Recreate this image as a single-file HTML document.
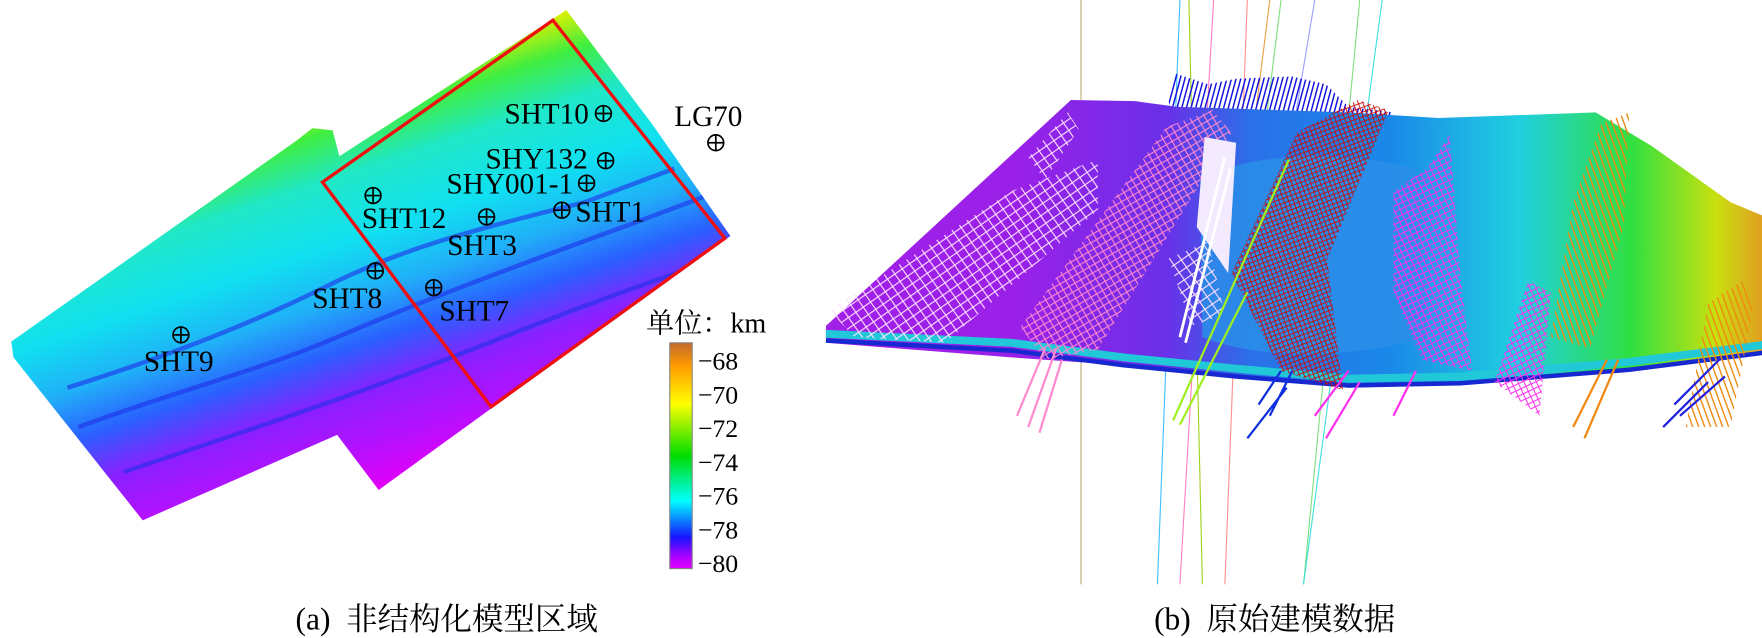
<!DOCTYPE html>
<html><head><meta charset="utf-8">
<style>
html,body{margin:0;padding:0;background:#fff;width:1762px;height:638px;overflow:hidden}
svg{display:block}
text{font-family:"Liberation Serif","Noto Serif CJK SC","Noto Sans CJK SC",serif;fill:#000}
</style></head>
<body>
<svg id="fig" width="1762" height="638" viewBox="0 0 1568 567.7">
<defs>
 <linearGradient id="mapGrad" gradientUnits="userSpaceOnUse" x1="504" y1="9" x2="615" y2="340">
  <stop offset="0" stop-color="#e0f000"/>
  <stop offset="0.1" stop-color="#40ee40"/>
  <stop offset="0.22" stop-color="#20e8c8"/>
  <stop offset="0.38" stop-color="#10e0f0"/>
  <stop offset="0.52" stop-color="#20b0f8"/>
  <stop offset="0.64" stop-color="#2a60ff"/>
  <stop offset="0.76" stop-color="#8a20ff"/>
  <stop offset="0.9" stop-color="#b810ff"/>
  <stop offset="1" stop-color="#e000f8"/>
 </linearGradient>
 <clipPath id="mapClip">
  <polygon points="10,304 264,125 278,114 296,116 302,139 504,9 580,110 650,210 464,344 337,436 300,387 127,463 12,318"/>
 </clipPath>
 <linearGradient id="cbGrad" x1="0" y1="0" x2="0" y2="1">
  <stop offset="0" stop-color="#c06a30"/>
  <stop offset="0.1" stop-color="#ff9a00"/>
  <stop offset="0.27" stop-color="#ffff00"/>
  <stop offset="0.5" stop-color="#00dd00"/>
  <stop offset="0.7" stop-color="#00ffff"/>
  <stop offset="0.86" stop-color="#1515ff"/>
  <stop offset="0.95" stop-color="#b000ff"/>
  <stop offset="1" stop-color="#e000ff"/>
 </linearGradient>
 <linearGradient id="bodyGrad" gradientUnits="userSpaceOnUse" x1="740" y1="0" x2="1568" y2="0">
  <stop offset="0" stop-color="#a020e8"/>
  <stop offset="0.2" stop-color="#9a20e8"/>
  <stop offset="0.36" stop-color="#6a30e8"/>
  <stop offset="0.45" stop-color="#2a70e8"/>
  <stop offset="0.6" stop-color="#1a88e8"/>
  <stop offset="0.74" stop-color="#20d0e0"/>
  <stop offset="0.86" stop-color="#30e040"/>
  <stop offset="0.95" stop-color="#c8e010"/>
  <stop offset="1" stop-color="#e0a020"/>
 </linearGradient>
 <pattern id="hatchWhite" width="8" height="8" patternUnits="userSpaceOnUse" patternTransform="rotate(-35)">
  <path d="M0,0 L0,8 M0,0 L8,0" stroke="#ffe0ff" stroke-width="2"/>
 </pattern>
 <pattern id="hatchPink" width="6" height="6" patternUnits="userSpaceOnUse" patternTransform="rotate(-30)">
  <path d="M0,0 L0,6 M0,0 L6,0" stroke="#ff88cc" stroke-width="2"/>
 </pattern>
 <pattern id="hatchRed" width="4" height="4" patternUnits="userSpaceOnUse" patternTransform="rotate(-20)">
  <path d="M0,0 L0,4 M0,0 L4,0" stroke="#c80a0a" stroke-width="1.6"/>
 </pattern>
 <pattern id="hatchMag" width="5" height="5" patternUnits="userSpaceOnUse" patternTransform="rotate(-25)">
  <path d="M0,0 L0,5 M0,0 L5,0" stroke="#ff30f0" stroke-width="1.8"/>
 </pattern>
 <pattern id="hatchOrange" width="5" height="6" patternUnits="userSpaceOnUse" patternTransform="rotate(-20)">
  <path d="M0,0 L0,6" stroke="#f08a10" stroke-width="2.5"/>
 </pattern>
 <pattern id="hatchBlue" width="4" height="6" patternUnits="userSpaceOnUse" patternTransform="rotate(15)">
  <path d="M0,0 L0,6" stroke="#1010e0" stroke-width="2.6"/>
 </pattern>
</defs>

<g>
 <polygon fill="url(#mapGrad)"
  points="10,304 264,125 278,114 296,116 302,139 504,9 580,110 650,210 464,344 337,436 300,387 127,463 12,318"/>
 <g stroke="#2030e8" stroke-width="4" fill="none" opacity="0.6" clip-path="url(#mapClip)">
  <path d="M70,380 C150,350 230,330 300,300 S450,240 560,200 L640,170"/>
  <path d="M110,420 C200,390 290,360 370,330 S520,270 640,230"/>
  <path d="M60,345 C140,320 220,290 290,255 S420,205 520,180 L600,150"/>
 </g>
 <polygon fill="none" stroke="#ee1010" stroke-width="3"
  points="287,162 492,18 645,212 437,362"/>
 <g id="wells"></g>
 <text x="575" y="296" font-size="25">单位：km</text>
 <rect x="596" y="305" width="20" height="201" fill="url(#cbGrad)" stroke="#888" stroke-width="1"/>
 <g id="cbticks"></g>
 <text x="263" y="560" font-size="28">(a)&#160;&#160;非结构化模型区域</text>
</g>

<g>
 <line x1="962" y1="0" x2="962" y2="520" stroke="#b8b070" stroke-width="1"/>
 <g stroke-width="1">
  <line x1="1050" y1="0" x2="1030" y2="520" stroke="#40c0ff"/>
  <line x1="1058" y1="0" x2="1070" y2="520" stroke="#a0d020"/>
  <line x1="1080" y1="0" x2="1050" y2="520" stroke="#ff80c0"/>
  <line x1="1110" y1="0" x2="1090" y2="520" stroke="#ff9090"/>
  <line x1="1130" y1="0" x2="1115" y2="120" stroke="#f0a040"/>
  <line x1="1140" y1="0" x2="1125" y2="120" stroke="#80e080"/>
  <line x1="1170" y1="0" x2="1150" y2="120" stroke="#a0a0ff"/>
  <line x1="1210" y1="0" x2="1160" y2="520" stroke="#80e080"/>
  <line x1="1230" y1="0" x2="1160" y2="520" stroke="#40e0e0"/>
 </g>
 <path fill="url(#hatchBlue)"
  d="M1040,90 L1045,65 L1075,75 L1100,70 L1150,68 L1180,75 L1200,95 L1240,100 L1235,125 L1047,127 Z"/>
 <path fill="url(#bodyGrad)"
  d="M735,290 L953,89 L1010,90 L1047,95 L1200,100 L1280,105 L1420,100 L1470,130 L1540,180 L1600,205 L1640,215 L1660,230 L1762,250 L1762,300 L1600,310 L1450,330 L1300,342 L1200,345 L1100,335 L1000,325 L900,318 L735,305 Z"/>
 <path fill="#2a8ee8" opacity="0.85"
  d="M1068,160 C1100,140 1180,130 1260,150 L1270,300 C1200,320 1120,320 1070,300 Z"/>
 <path fill="none" stroke="#20c8d8" stroke-width="7"
  d="M735,297 L900,305 L1000,318 L1100,328 L1200,337 L1300,335 L1450,322 L1600,303 L1762,292"/>
 <path fill="none" stroke="#1828d0" stroke-width="4" d="M735,303 L900,312 L1000,325 L1100,335 L1200,343 L1300,341 L1450,329 L1600,310 L1762,299"/>
 <g>
  <path fill="url(#hatchWhite)" d="M738,276 L900,170 L977,142 L977,187 L841,305 L760,300 Z"/>
  <path fill="url(#hatchWhite)" d="M915,140 L950,100 L960,115 L930,160 Z"/>
  <path fill="url(#hatchPink)" d="M908,291 L1038,113 L1079,98 L1096,118 L977,311 L930,320 Z"/>
  <path fill="#f4eaff" d="M1072,122 L1100,127 L1093,243 L1065,202 Z"/>
  <path fill="url(#hatchWhite)" d="M1040,230 L1075,215 L1090,280 L1060,290 Z"/>
  <path fill="url(#hatchRed)" d="M1154,118 L1208,89 L1236,98 L1181,231 L1195,347 L1140,330 L1096,243 Z"/>
  <path fill="url(#hatchMag)" d="M1240,170 L1270,150 L1290,120 L1300,250 L1310,330 L1265,320 L1240,260 Z"/>
  <path fill="url(#hatchOrange)" d="M1380,300 L1400,180 L1425,110 L1450,100 L1445,200 L1415,310 Z"/>
  <path fill="url(#hatchOrange)" d="M1500,380 L1520,270 L1550,250 L1560,275 L1540,380 Z"/>
  <path fill="url(#hatchMag)" d="M1330,340 L1360,250 L1380,260 L1370,370 Z"/>
 </g>
 <g fill="none" stroke-width="2">
  <path d="M1050,300 L1090,140 M1055,305 L1095,150" stroke="#ffffff" stroke-width="2.5"/>
  <path d="M1044,374 L1147,142 M1050,378 L1110,260" stroke="#a0f020"/>
  <path d="M905,370 L930,310 M915,380 L940,310 M925,385 L945,320" stroke="#ff8ad0"/>
  <path d="M1120,360 L1140,330 M1130,370 L1150,330 M1110,390 L1145,345" stroke="#1030e0"/>
  <path d="M1170,370 L1200,330 M1180,390 L1210,340 M1240,370 L1260,330" stroke="#ff30f0"/>
  <path d="M1490,360 L1530,320 M1495,370 L1535,335 M1480,380 L1520,340" stroke="#2020e0"/>
  <path d="M1400,380 L1430,320 M1410,390 L1440,320" stroke="#f08a10"/>
 </g>
 <text x="1027" y="560" font-size="28">(b)&#160;&#160;原始建模数据</text>
</g>

<script>
const wellNames = ["SHT10","SHY132","SHY001-1","SHT1","SHT12","SHT3","SHT8","SHT7","SHT9","LG70"];
const wellX = [537,539,522,500,332,433,334,386,161,637];
const wellY = [101,143,163,187,174,193,241,256,298,127];
const labelX = [524,523,510,512,322,398,278,391,128,600];
const labelY = [110,150,172,197,203,227,274,285,330,112];
const labelAnchor = ["end","end","end","start","start","start","start","start","start","start"];
const cbTicks = [-68,-70,-72,-74,-76,-78,-80];
const NS = "http://www.w3.org/2000/svg";
const wg = document.getElementById("wells");
function yOfVal(v){ return 501 - (v + 80) / 12 * 180; }
wellNames.forEach((n,i)=>{
  const g=document.createElementNS(NS,"g");
  
  
  const c=document.createElementNS(NS,"circle");
  c.setAttribute("cx",wellX[i]);c.setAttribute("cy",wellY[i]);c.setAttribute("r",7);
  c.setAttribute("fill","none");c.setAttribute("stroke","#000");c.setAttribute("stroke-width","1.5");
  g.appendChild(c);
  const p=document.createElementNS(NS,"path");
  p.setAttribute("d",`M${wellX[i]-7},${wellY[i]} h14 M${wellX[i]},${wellY[i]-7} v14`);
  p.setAttribute("stroke","#000");p.setAttribute("stroke-width","1.5");
  g.appendChild(p);
  const t=document.createElementNS(NS,"text");
  t.setAttribute("x",labelX[i]);t.setAttribute("y",labelY[i]);t.setAttribute("font-size","26");
  t.setAttribute("text-anchor",labelAnchor[i]);
  t.textContent=n;
  g.appendChild(t);
  wg.appendChild(g);
});
const tg=document.getElementById("cbticks");
cbTicks.forEach(v=>{
  const t=document.createElementNS(NS,"text");
  
  
  t.setAttribute("x",621);t.setAttribute("y",yOfVal(v)+8);t.setAttribute("font-size","23");
  t.textContent="\u2212"+Math.abs(v);
  tg.appendChild(t);
});
</script>
</svg>
</body></html>
